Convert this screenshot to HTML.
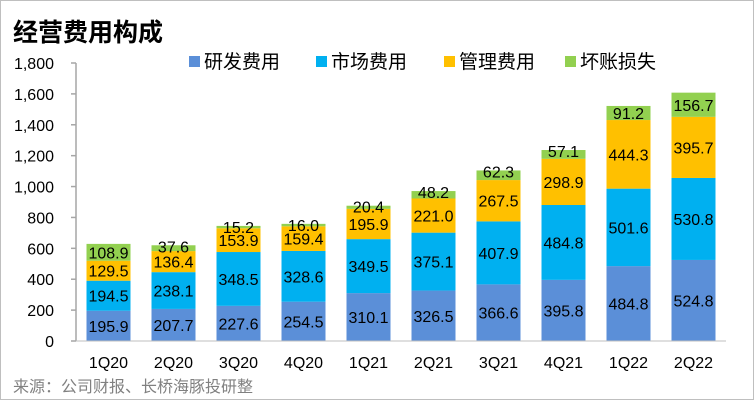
<!DOCTYPE html>
<html><head><meta charset="utf-8">
<style>
body{margin:0;background:#fff;}
#wrap{position:relative;width:752px;height:398px;border:1px solid #bfbfbf;font-family:"Liberation Sans","Noto Sans CJK SC",sans-serif;}
</style></head>
<body>
<div id="wrap">
<svg id="chart" width="752" height="398" xmlns="http://www.w3.org/2000/svg">
<text x="12" y="40" font-size="25" font-weight="bold" fill="#000" font-family="Liberation Sans,Noto Sans CJK SC,sans-serif">经营费用构成</text>
<text x="12" y="391" font-size="16" fill="#808080" font-family="Liberation Sans,Noto Sans CJK SC,sans-serif">来源：公司财报、长桥海豚投研整</text>
<g id="legend"></g>
<g id="grid"></g><g id="bars"></g><g id="axes"></g>
</svg>
</div>
<script>
const categories=["1Q20","2Q20","3Q20","4Q20","1Q21","2Q21","3Q21","4Q21","1Q22","2Q22"];
const rdValues=[195.9,207.7,227.6,254.5,310.1,326.5,366.6,395.8,484.8,524.8];
const marketValues=[194.5,238.1,348.5,328.6,349.5,375.1,407.9,484.8,501.6,530.8];
const adminValues=[129.5,136.4,153.9,159.4,195.9,221.0,267.5,298.9,444.3,395.7];
const badDebtValues=[108.9,37.6,15.2,16.0,20.4,48.2,62.3,57.1,91.2,156.7];
const seriesNames=["研发费用","市场费用","管理费用","坏账损失"];
const yTicks=[0,200,400,600,800,1000,1200,1400,1600,1800];
const yTickLabels=["0","200","400","600","800","1,000","1,200","1,400","1,600","1,800"];

const NS="http://www.w3.org/2000/svg";
const colors=["#5B8FD8","#00B0F0","#FFC000","#92D050"];
const series=[rdValues,marketValues,adminValues,badDebtValues];
const x0=75,x1=725,y0=340,yTop=62,yMax=1800;
const y=v=>y0-v/yMax*(y0-yTop);
const band=(x1-x0)/categories.length;
const xc=i=>x0+band*(i+0.5);
const bw=44;
function mk(tag,attrs,parent){const e=document.createElementNS(NS,tag);for(const k in attrs)e.setAttribute(k,attrs[k]);parent.appendChild(e);return e;}
const grid=document.getElementById('grid'),bars=document.getElementById('bars'),axes=document.getElementById('axes'),legend=document.getElementById('legend');
const ax=mk('line',{x1:x0,x2:x0,y1:yTop,y2:y0,stroke:'#a6a6a6','stroke-width':1.5},axes);


const bx=mk('line',{x1:x0,x2:x1,y1:y0,y2:y0,stroke:'#bfbfbf','stroke-width':1},axes);


yTicks.forEach((t,i)=>{
 const l=mk('line',{x1:x0-5,x2:x0,y1:y(t),y2:y(t),stroke:'#a6a6a6','stroke-width':1.5},axes);
 
 
 const tx=mk('text',{x:x0-22,y:y(t)+6,'text-anchor':'end','font-size':16,fill:'#000'},axes);
 tx.textContent=yTickLabels[i];
 
 
});
categories.forEach((c,i)=>{
 let base=0;
 series.forEach((s,k)=>{
  const v=s[i];const top=y(base+v),bot=y(base);
  const r=mk('rect',{x:xc(i)-bw/2,y:top,width:bw,height:bot-top,fill:colors[k]},bars);
  
  
  const h=bot-top;const ly=h<14?top+1:(top+bot)/2;
  const t=mk('text',{x:xc(i),y:ly+6,'text-anchor':'middle','font-size':16,fill:'#000'},bars);
  t.textContent=v.toFixed(1);
  
  
  base+=v;
 });
 const t=mk('text',{x:xc(i),y:y0+27,'text-anchor':'middle','font-size':16,fill:'#000'},axes);
 t.textContent=c;
 
 
});
const lx=[188,315,443,564];
seriesNames.forEach((n,k)=>{
 const r=mk('rect',{x:lx[k],y:55,width:11,height:11,fill:colors[k]},legend);
 
 
 const t=mk('text',{x:lx[k]+15,y:67,'font-size':19,fill:'#000'},legend);
 t.textContent=n;
 
 
});
</script>
</body></html>
